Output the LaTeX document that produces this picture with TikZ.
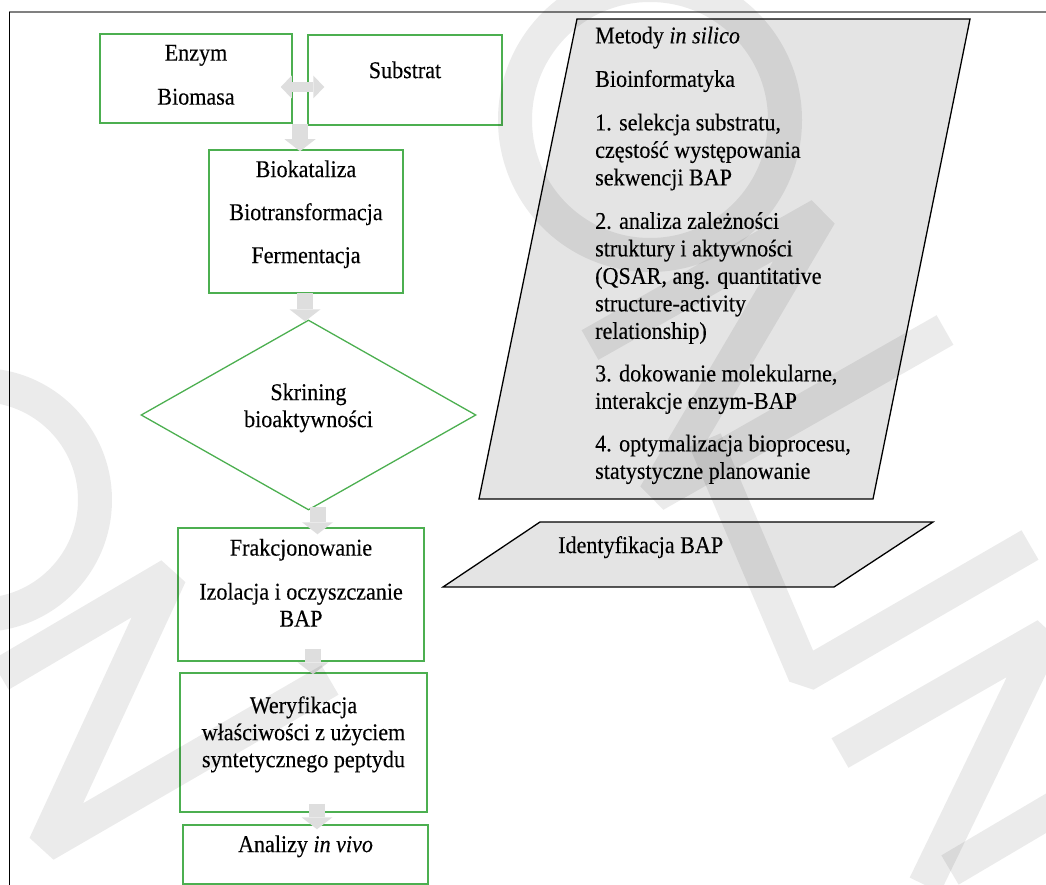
\documentclass[tikz,border=0pt]{standalone}
\usepackage{fontspec}
\setmainfont{Liberation Serif}[FakeStretch=0.92, UprightFeatures={FakeBold=0.25}, ItalicFeatures={FakeBold=0.25}]
\usetikzlibrary{arrows.meta,shapes.geometric,calc}

\definecolor{boxgreen}{RGB}{76,175,80}
\definecolor{arrowgray}{RGB}{222,222,222}
\definecolor{paragray}{RGB}{228,228,228}

\tikzset{
    every node/.style={font=\fontsize{24}{27}\selectfont},
    stepbox/.style={draw=boxgreen, line width=1.5pt, rectangle, align=center, inner sep=0pt},
    decision/.style={draw=boxgreen, line width=1.3pt, diamond, aspect=1.8, align=center, inner sep=0pt},
    datashape/.style={draw=black, line width=1.3pt, fill=paragray},
    fatarrow/.style={draw=arrowgray, line width=16pt,
        -{Triangle[length=12pt, width=31pt, line width=0pt]}},
    fatdouble/.style={draw=arrowgray, line width=10pt,
        {Triangle[length=11pt, width=23pt, line width=0pt]}-{Triangle[length=11pt, width=23pt, line width=0pt]}},
    watermark/.style={black, opacity=0.08, line width=34pt, line join=bevel}
}

\begin{document}
\begin{tikzpicture}[x=1pt, y=-1pt]
    \useasboundingbox (0,0) rectangle (1046,885);

    % Frame
    \draw[gray, line width=1.5pt] (9,12) -- (1046,12);
    \draw[black, line width=1pt] (9,12) -- (9,885);

    % In silico panel
    \draw[datashape] (577,19) -- (970,19) -- (873,499) -- (479,499) -- cycle;
    \node[anchor=north west, align=left, inner sep=0pt, font=\fontsize{24}{27.5}\selectfont]
        (silico) at (595,26.5)
        {Metody \textit{in silico}\\[16pt]
         Bioinformatyka\\[16pt]
         1. selekcja substratu,\\częstość występowania\\sekwencji BAP\\[16pt]
         2. analiza zależności\\struktury i aktywności\\(QSAR, ang. quantitative\\structure-activity\\relationship)\\[15pt]
         3. dokowanie molekularne,\\interakcje enzym-BAP\\[15pt]
         4. optymalizacja bioprocesu,\\statystyczne planowanie};

    % Identification panel
    \draw[datashape] (540,522) -- (933,522) -- (834,587) -- (443,587) -- cycle;
    \node[anchor=base west, inner sep=0pt] (ident) at (558,553) {Identyfikacja BAP};

    % Process steps
    \node[stepbox, minimum width=192pt, minimum height=89pt, text depth=7.5pt]
        (enzym) at (196,78.5) {Enzym\\[17pt]Biomasa};
    \node[stepbox, minimum width=194pt, minimum height=90pt, text depth=20.5pt]
        (substrat) at (405,80) {Substrat};
    \node[stepbox, minimum width=194pt, minimum height=143pt, text depth=19.5pt]
        (biokat) at (306,221.5) {Biokataliza\\[16pt]Biotransformacja\\[16pt]Fermentacja};
    \node[decision, minimum width=335pt, minimum height=190pt, text depth=19.5pt]
        (skrin) at (308.5,415) {Skrining\\bioaktywności};
    \node[stepbox, minimum width=246pt, minimum height=133pt, text depth=23.5pt]
        (frak) at (301,594.5) {Frakcjonowanie\\[17pt]Izolacja i oczyszczanie\\BAP};
    \node[stepbox, minimum width=247pt, minimum height=139pt, text depth=21.5pt]
        (wery) at (303.5,742.5) {Weryfikacja\\właściwości z użyciem\\syntetycznego peptydu};
    \node[stepbox, minimum width=245pt, minimum height=59pt, text depth=21.5pt]
        (analizy) at (305.5,854.5) {Analizy \textit{in vivo}};

    % Connectors
    \coordinate (join) at ($(enzym.south east)!0.5!(substrat.south west)$);
    \draw[fatdouble] ([xshift=-12pt,yshift=-8.5pt]enzym.east) -- ([xshift=17pt,yshift=-7pt]substrat.west);
    \draw[fatarrow] ([yshift=1pt]join) -- ([yshift=-2pt]join |- biokat.north);
    \draw[fatarrow] ([xshift=-1pt,yshift=1pt]biokat.south) -- ([xshift=-1pt,yshift=-2pt]biokat.south |- skrin.north);
    \draw[fatarrow] ([xshift=9pt,yshift=4pt]skrin.south) -- ([xshift=9pt,yshift=-7pt]skrin.south |- frak.north);
    \draw[fatarrow] ([xshift=12pt,yshift=13pt]frak.south) -- ([xshift=12pt,yshift=-2pt]frak.south |- wery.north);
    \draw[fatarrow] ([xshift=13.5pt,yshift=9pt]wery.south) -- ([xshift=13.5pt,yshift=-5pt]wery.south |- analizy.north);

    % Watermark
    \begin{scope}[watermark]
        \draw (-20,500) circle[radius=115];
        \draw (0,675) -- (170,575) -- (45,845) -- (330,680);
        \draw (650,120) circle[radius=135];
        \draw (590,345) -- (820,215) -- (655,495) -- (945,330);
        \draw (705,440) -- (805,675) -- (1030,545);
        \draw (840,753) -- (1046,635) -- (925,885);
        \draw (950,870) -- (1060,805);
    \end{scope}
\end{tikzpicture}
\end{document}
